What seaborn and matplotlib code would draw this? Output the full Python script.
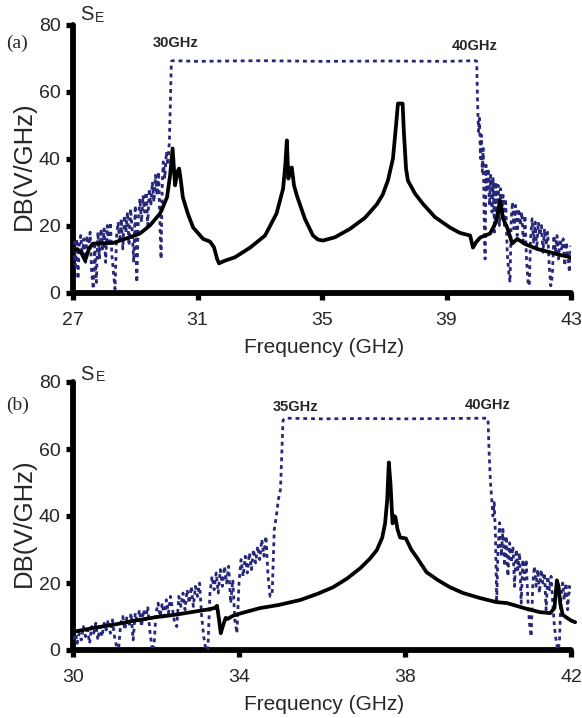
import matplotlib
matplotlib.use("Agg")
import matplotlib.pyplot as plt
import seaborn as sns
import pandas as pd

# ---------------- data (panel a) ----------------
a_black_freq = [27.00, 27.13, 27.26, 27.39, 27.51, 27.64, 27.87, 28.29, 28.67, 29.15, 29.47, 29.80,
                30.02, 30.12, 30.20, 30.28, 30.35, 30.41, 30.47, 30.53, 30.69, 30.86, 31.18, 31.40,
                31.53, 31.63, 31.69, 31.88, 32.20, 32.69, 33.17, 33.54, 33.75, 33.82, 33.87, 33.92,
                33.98, 34.03, 34.10, 34.19, 34.45, 34.71, 34.87, 35.03, 35.42, 35.90, 36.38, 36.76,
                36.95, 37.12, 37.28, 37.38, 37.44, 37.59, 37.63, 37.70, 37.76, 37.99, 38.24, 38.63,
                39.11, 39.43, 39.76, 39.85, 39.95, 40.08, 40.40, 40.59, 40.72, 40.82, 40.95, 41.11,
                41.27, 41.52, 41.91, 42.33, 42.65, 43.00]
a_black_db = [12.5, 13.0, 12.0, 9.5, 13.0, 14.6, 14.6, 14.8, 16.0, 17.6, 20.0, 23.6,
              28.4, 35.0, 43.0, 32.0, 36.0, 37.0, 33.0, 28.4, 23.5, 19.4, 16.0, 15.2,
              13.5, 10.0, 8.7, 9.5, 10.5, 13.4, 17.0, 23.6, 31.0, 38.0, 45.4, 34.0,
              37.0, 37.3, 32.0, 29.0, 22.0, 17.0, 15.8, 15.5, 16.5, 19.0, 22.3, 26.3,
              29.2, 33.5, 40.0, 50.0, 56.4, 56.4, 48.0, 37.0, 33.4, 29.5, 26.5, 22.5,
              19.4, 17.8, 17.0, 13.4, 15.0, 16.4, 17.6, 21.0, 27.5, 22.0, 19.4, 14.6,
              16.0, 14.5, 13.0, 12.0, 11.2, 10.5]

a_blue_freq = [27.00, 27.04, 27.08, 27.12, 27.16, 27.20, 27.25, 27.30, 27.35, 27.40, 27.45, 27.50,
               27.55, 27.60, 27.65, 27.70, 27.75, 27.80, 27.85, 27.90, 27.95, 28.00, 28.05, 28.10,
               28.15, 28.20, 28.25, 28.30, 28.35, 28.40, 28.45, 28.50, 28.55, 28.60, 28.65, 28.70,
               28.75, 28.80, 28.85, 28.90, 28.95, 29.00, 29.05, 29.10, 29.15, 29.20, 29.25, 29.30,
               29.35, 29.40, 29.45, 29.50, 29.55, 29.60, 29.65, 29.70, 29.75, 29.80, 29.83, 29.87,
               29.90, 29.95, 30.00, 30.05, 30.10, 30.16, 30.20, 31.00, 33.00, 35.00, 37.00, 39.00,
               39.93, 39.97, 40.00, 40.03, 40.06, 40.09, 40.12, 40.15, 40.18, 40.21, 40.24, 40.27,
               40.30, 40.34, 40.38, 40.42, 40.46, 40.50, 40.54, 40.58, 40.62, 40.66, 40.70, 40.74,
               40.78, 40.82, 40.86, 40.90, 40.95, 41.00, 41.04, 41.08, 41.12, 41.17, 41.22, 41.27,
               41.32, 41.37, 41.42, 41.47, 41.52, 41.57, 41.62, 41.66, 41.70, 41.75, 41.80, 41.85,
               41.90, 41.95, 42.00, 42.05, 42.10, 42.15, 42.20, 42.25, 42.30, 42.35, 42.40, 42.45,
               42.50, 42.55, 42.60, 42.65, 42.70, 42.75, 42.80, 42.85, 42.90, 42.95, 43.00]
a_blue_db = [10, 15, 8, 16, 4, 14, 17, 11, 16, 9, 17, 12,
             18, 6, 1, 14, 3, 18, 10, 19, 13, 19, 9, 20,
             14, 21, 11, 6, 1, 17, 21, 15, 22, 13, 23, 18,
             24, 14, 25, 19, 9, 26, 3, 22, 28, 21, 29, 24,
             30, 20, 31, 26, 33, 27, 35, 29, 36, 18, 10, 33,
             39, 34, 42, 38, 46, 69.0, 69.2, 69.0, 69.2, 69.0, 69.1, 69.0,
             69.2, 69.0, 56, 48, 52, 40, 47, 36, 43, 22, 10, 38,
             30, 37, 26, 35, 24, 34, 18, 33, 25, 32, 20, 31,
             24, 29, 20, 28, 12, 6, 3, 22, 27, 19, 26, 17,
             25, 20, 24, 14, 23, 10, 3, 2, 16, 22, 15, 21,
             13, 21, 17, 20, 12, 19, 14, 18, 8, 2, 5, 17,
             12, 17, 10, 16, 13, 16, 8, 15, 11, 6, 14]

# ---------------- data (panel b) ----------------
b_black_freq = [30.00, 30.50, 31.00, 31.50, 32.00, 32.50, 33.00, 33.30, 33.42, 33.47, 33.52, 33.56,
                33.62, 33.68, 33.73, 33.85, 34.00, 34.50, 34.94, 35.47, 35.90, 36.27, 36.60, 36.92,
                37.15, 37.32, 37.45, 37.52, 37.57, 37.61, 37.65, 37.70, 37.74, 37.77, 37.82, 37.88,
                38.02, 38.15, 38.28, 38.52, 38.80, 39.08, 39.40, 39.81, 40.20, 40.46, 40.90, 41.25,
                41.50, 41.60, 41.66, 41.70, 41.74, 41.80, 41.88, 42.00, 42.10]
b_black_db = [5.4, 6.6, 7.6, 8.8, 9.8, 10.6, 11.6, 12.2, 12.6, 13.2, 9.0, 5.0,
              7.5, 9.6, 9.3, 10.2, 10.8, 12.5, 13.4, 14.9, 16.8, 18.75, 21.3, 24.4,
              27.2, 29.8, 33.5, 37.8, 44.6, 56.0, 49.7, 37.8, 40.0, 39.6, 36.0, 33.6,
              33.3, 30.0, 27.7, 23.2, 20.8, 18.75, 17.0, 15.5, 14.3, 14.0, 12.4, 11.3,
              11.0, 12.5, 20.8, 19.0, 14.0, 10.5, 9.8, 8.8, 8.3]

b_blue_freq = [30.00, 30.05, 30.10, 30.15, 30.20, 30.25, 30.30, 30.35, 30.40, 30.45, 30.50, 30.55,
               30.60, 30.65, 30.70, 30.75, 30.80, 30.85, 30.90, 30.95, 31.00, 31.05, 31.10, 31.15,
               31.20, 31.25, 31.30, 31.35, 31.40, 31.45, 31.50, 31.55, 31.60, 31.65, 31.70, 31.75,
               31.80, 31.85, 31.90, 31.95, 32.00, 32.05, 32.10, 32.15, 32.20, 32.25, 32.30, 32.35,
               32.40, 32.45, 32.50, 32.55, 32.60, 32.65, 32.70, 32.75, 32.80, 32.85, 32.90, 32.95,
               33.00, 33.05, 33.10, 33.15, 33.20, 33.25, 33.30, 33.35, 33.40, 33.45, 33.50, 33.55,
               33.60, 33.65, 33.70, 33.75, 33.80, 33.85, 33.90, 33.95, 34.00, 34.05, 34.10, 34.15,
               34.20, 34.25, 34.30, 34.35, 34.40, 34.45, 34.50, 34.55, 34.60, 34.65, 34.70, 34.75,
               34.80, 34.85, 34.90, 34.95, 35.00, 35.06, 35.10, 36.00, 37.00, 38.00, 39.00, 39.97,
               40.00, 40.03, 40.06, 40.09, 40.12, 40.15, 40.18, 40.21, 40.24, 40.28, 40.32, 40.36,
               40.40, 40.44, 40.48, 40.52, 40.56, 40.60, 40.64, 40.68, 40.72, 40.76, 40.80, 40.84,
               40.88, 40.92, 40.96, 41.00, 41.04, 41.08, 41.12, 41.16, 41.20, 41.24, 41.28, 41.32,
               41.36, 41.40, 41.44, 41.48, 41.52, 41.56, 41.60, 41.64, 41.68, 41.72, 41.76, 41.80,
               41.84, 41.88, 41.92, 41.96, 42.00]
b_blue_db = [3, 6, 2, 5, 3, 7, 4, 6, 2, 7, 5, 8,
             3, 7, 4, 8, 6, 9, 5, 9, 4, 1, 0.5, 8,
             10, 6, 10, 7, 11, 3, 11, 8, 12, 7, 12, 9,
             13, 6, 1, 1, 11, 14, 10, 14, 9, 15, 11, 16,
             12, 8, 7, 16, 13, 17, 12, 18, 14, 19, 13, 19,
             16, 20, 10, 4, 0, 0, 17, 22, 18, 23, 17, 24,
             19, 25, 20, 25, 14, 21, 9, 5, 20, 27, 22, 28,
             23, 29, 24, 30, 26, 31, 27, 33, 28, 34, 22, 16,
             17, 36, 40, 45, 48, 68.5, 69.2, 69.0, 69.1, 69.0, 69.1, 69.2,
             69, 58, 50, 45, 40, 44, 34, 14, 30, 38, 28, 36,
             25, 34, 22, 32, 26, 31, 19, 30, 24, 29, 14, 27,
             21, 27, 15, 8, 4, 20, 25, 19, 24, 17, 24, 20,
             23, 12, 22, 18, 22, 14, 7, 3, 0, 2, 16, 20,
             15, 20, 12, 19, 17]

a_ticks = [27, 31, 35, 39, 43]
b_ticks = [30, 34, 38, 42]
y_ticks = [0, 20, 40, 60, 80]
a_band_labels = ["30GHz", "40GHz"]
b_band_labels = ["35GHz", "40GHz"]

# ---------------- style ----------------
sns.set_style("ticks")
plt.rcParams["font.family"] = ["Liberation Sans", "DejaVu Sans"]

W, H = 582, 718
fig = plt.figure(figsize=(W / 100, H / 100), dpi=100)

BLUE = "#28287a"
BLACK = "#000000"
BLUE_DASH = (0, (1.4, 1.4))


def fx(px):
    return px / W


def fy(py):
    return 1 - py / H


def make_axes(top_px, bottom_px):
    ax = fig.add_axes([fx(73), fy(bottom_px), (571 - 73) / W, (bottom_px - top_px) / H])
    return ax


def style_axes(ax, xlim, xticks):
    ax.set_xlim(*xlim)
    ax.set_ylim(0, 80)
    ax.set_xticks(xticks)
    ax.set_yticks(y_ticks)
    for s in ["top", "right"]:
        ax.spines[s].set_visible(False)
    for s in ["left", "bottom"]:
        ax.spines[s].set_linewidth(4.2)
        ax.spines[s].set_color("black")
        ax.spines[s].set_capstyle("round")
    ax.tick_params(axis="both", direction="out", length=5, width=3.8, color="black",
                   labelsize=14, pad=4)
    ax.tick_params(axis="x", pad=9)
    ax.set_xlabel("Frequency (GHz)", fontsize=15, va="center")
    ax.set_ylabel("DB(V/GHz)", fontsize=18.5, va="center")
    ax.xaxis.set_label_coords(0.505, -0.205)
    ax.yaxis.set_label_coords(-0.098, 0.474)
    ax.patch.set_alpha(0)


# ---------------- panel (a) ----------------
ax1 = make_axes(24.5, 292.5)
df_a_blue = pd.DataFrame({"f": a_blue_freq, "db": a_blue_db})
df_a_black = pd.DataFrame({"f": a_black_freq, "db": a_black_db})
sns.lineplot(data=df_a_blue, x="f", y="db", ax=ax1, sort=False, estimator=None,
             color=BLUE, lw=2.0, linestyle=BLUE_DASH, zorder=3)
sns.lineplot(data=df_a_black, x="f", y="db", ax=ax1, sort=False, estimator=None,
             color=BLACK, lw=2.7, zorder=4, solid_joinstyle="round", solid_capstyle="round")
style_axes(ax1, (27, 43), a_ticks)

fig.text(fx(80), fy(15), "S", fontsize=14.5, ha="left", va="center")
fig.text(fx(94.5), fy(17.5), "E", fontsize=10, ha="left", va="center")
fig.text(fx(6), fy(43), "(a)", fontsize=14, ha="left", va="center",
         family=["Liberation Serif", "DejaVu Serif"])
fig.text(fx(176), fy(43), a_band_labels[0], fontsize=10.5, fontweight="bold", ha="center", va="center")
fig.text(fx(475), fy(46), a_band_labels[1], fontsize=10.5, fontweight="bold", ha="center", va="center")

# ---------------- panel (b) ----------------
ax2 = make_axes(382, 650)
df_b_blue = pd.DataFrame({"f": b_blue_freq, "db": b_blue_db})
df_b_black = pd.DataFrame({"f": b_black_freq, "db": b_black_db})
sns.lineplot(data=df_b_blue, x="f", y="db", ax=ax2, sort=False, estimator=None,
             color=BLUE, lw=2.0, linestyle=BLUE_DASH, zorder=3)
sns.lineplot(data=df_b_black, x="f", y="db", ax=ax2, sort=False, estimator=None,
             color=BLACK, lw=2.7, zorder=4, clip_on=False,
             solid_joinstyle="round", solid_capstyle="round")
style_axes(ax2, (30, 42), b_ticks)

fig.text(fx(80), fy(374), "S", fontsize=14.5, ha="left", va="center")
fig.text(fx(95.5), fy(377), "E", fontsize=10, ha="left", va="center")
fig.text(fx(6), fy(405), "(b)", fontsize=14, ha="left", va="center",
         family=["Liberation Serif", "DejaVu Serif"])
fig.text(fx(296), fy(407), b_band_labels[0], fontsize=10.5, fontweight="bold", ha="center", va="center")
fig.text(fx(488), fy(405), b_band_labels[1], fontsize=10.5, fontweight="bold", ha="center", va="center")

fig.savefig("out.png", dpi=100)
